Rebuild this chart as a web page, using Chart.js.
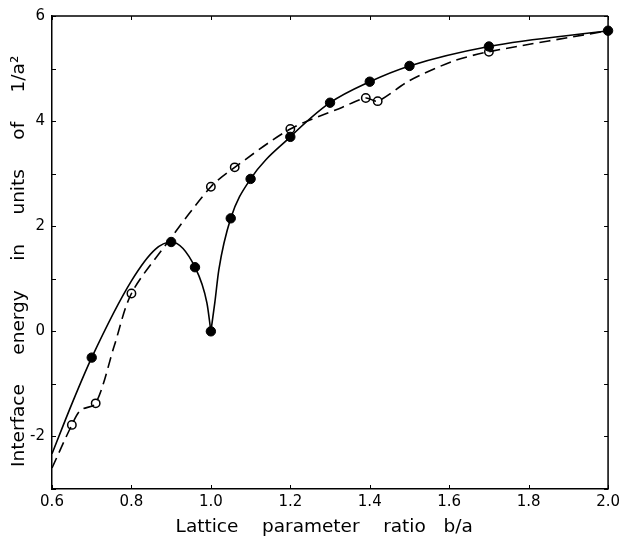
<!DOCTYPE html>
<html>
<head>
<meta charset="utf-8">
<script src="https://cdn.jsdelivr.net/npm/chart.js@4.4.0/dist/chart.umd.min.js"></script>
<style>
html,body{margin:0;padding:0;background:#fff;}
#wrap{width:624px;height:538px;}
</style>
</head>
<body>
<div id="wrap"><canvas id="c" width="624" height="538"></canvas></div>
<script>
// Tick values
const xTickValues = [0.6, 0.8, 1.0, 1.2, 1.4, 1.6, 1.8, 2.0];
const yTickValues = [-3, -2, -1, 0, 1, 2, 3, 4, 5, 6];
const yLabelValues = [-2, 0, 2, 4, 6];

// Solid curve (left branch, up to the cusp at b/a = 1)
const solidLeftX = [0.6, 0.65, 0.7, 0.8, 0.86, 0.9, 0.96, 0.99, 1.0];
const solidLeftY = [-2.33, -1.38, -0.5, 0.96, 1.56, 1.7, 1.22, 0.54, 0.0];
// Solid curve (right branch, from the cusp)
const solidRightX = [1.0, 1.01, 1.02, 1.05, 1.1, 1.2, 1.3, 1.4, 1.5, 1.7, 2.0];
const solidRightY = [0.0, 0.55, 1.17, 2.15, 2.9, 3.7, 4.35, 4.75, 5.05, 5.42, 5.72];
// Dashed curve
const dashedX = [0.6, 0.65, 0.672, 0.71, 0.757, 0.8, 0.89, 1.0, 1.06, 1.2, 1.33, 1.39, 1.42, 1.5, 1.61, 1.7, 2.0];
const dashedY = [-2.6, -1.78, -1.5, -1.37, -0.27, 0.72, 1.68, 2.75, 3.12, 3.85, 4.26, 4.44, 4.38, 4.77, 5.14, 5.32, 5.72];

// Filled circles
const filledX = [0.7, 0.9, 0.96, 1.0, 1.05, 1.1, 1.2, 1.3, 1.4, 1.5, 1.7, 2.0];
const filledY = [-0.5, 1.7, 1.22, 0.0, 2.15, 2.9, 3.7, 4.35, 4.75, 5.05, 5.42, 5.72];
// Open circles
const openX = [0.65, 0.71, 0.8, 1.0, 1.06, 1.2, 1.39, 1.42, 1.7];
const openY = [-1.78, -1.37, 0.72, 2.75, 3.12, 3.85, 4.44, 4.38, 5.32];

const pts = (xs, ys) => xs.map((x, i) => ({x: x, y: ys[i]}));

const FONT = "'DejaVu Sans', sans-serif";

const framePlugin = {
  id: 'frame',
  afterDraw(chart) {
    const {ctx, chartArea: a, scales: {x, y}} = chart;
    ctx.save();
    ctx.strokeStyle = '#000';
    ctx.lineWidth = 1.5;
    ctx.beginPath();
    ctx.moveTo(a.left, a.top); ctx.lineTo(a.right, a.top);
    ctx.moveTo(a.right, a.top); ctx.lineTo(a.right, a.bottom);
    ctx.stroke();
    ctx.lineWidth = 1;
    ctx.beginPath();
    xTickValues.forEach(v => {
      const px = Math.round(x.getPixelForValue(v)) + 0.5;
      ctx.moveTo(px, a.bottom); ctx.lineTo(px, a.bottom - 4);
      ctx.moveTo(px, a.top); ctx.lineTo(px, a.top + 4);
    });
    yTickValues.forEach(v => {
      const py = Math.round(y.getPixelForValue(v)) + 0.5;
      ctx.moveTo(a.left, py); ctx.lineTo(a.left + 4, py);
      ctx.moveTo(a.right, py); ctx.lineTo(a.right - 4, py);
    });
    ctx.stroke();
    ctx.restore();
  }
};

const lineBase = {
  type: 'line',
  showLine: true,
  borderColor: '#000',
  borderWidth: 1.6,
  pointRadius: 0,
  pointHoverRadius: 0,
  fill: false,
  clip: 2
};

new Chart(document.getElementById('c'), {
  type: 'scatter',
  data: {
    datasets: [
      Object.assign({}, lineBase, {label: 'solid-left', data: pts(solidLeftX, solidLeftY), cubicInterpolationMode: 'monotone'}),
      Object.assign({}, lineBase, {label: 'solid-right', data: pts(solidRightX, solidRightY), cubicInterpolationMode: 'monotone'}),
      Object.assign({}, lineBase, {label: 'dashed', data: pts(dashedX, dashedY), borderDash: [11, 6], tension: 0.3}),
      {
        label: 'filled', type: 'scatter', data: pts(filledX, filledY),
        pointRadius: 4.7, pointBackgroundColor: '#000', pointBorderColor: '#000', pointBorderWidth: 1,
        showLine: false, clip: false
      },
      {
        label: 'open', type: 'scatter', data: pts(openX, openY),
        pointRadius: 4.2, pointBackgroundColor: '#fff', pointBorderColor: '#000', pointBorderWidth: 1.5,
        showLine: false, clip: false
      }
    ]
  },
  options: {
    responsive: false,
    animation: false,
    devicePixelRatio: 1,
    layout: {padding: {top: 10, right: 12, left: 0, bottom: 0}},
    plugins: {legend: {display: false}, tooltip: {enabled: false}},
    events: [],
    scales: {
      x: {
        type: 'linear', position: 'bottom', min: 0.6, max: 2.0,
        afterBuildTicks: s => { s.ticks = xTickValues.map(v => ({value: v})); },
        afterFit: s => { s.height = 49; },
        ticks: {
          callback: v => Number(v).toFixed(1),
          color: '#000', font: {family: FONT, size: 15}, padding: 4,
          maxRotation: 0, autoSkip: false
        },
        grid: {display: false, drawTicks: false},
        border: {display: true, color: '#000', width: 1.5},
        title: {
          display: true, text: 'Lattice    parameter    ratio   b/a  ',
          color: '#000', font: {family: FONT, size: 18.5}, padding: {top: 0, bottom: 0}
        }
      },
      y: {
        type: 'linear', position: 'left', min: -3, max: 6,
        afterBuildTicks: s => { s.ticks = yTickValues.map(v => ({value: v})); },
        afterFit: s => { s.width = 52; },
        ticks: {
          callback: v => yLabelValues.includes(v) ? String(v) : '',
          color: '#000', font: {family: FONT, size: 15}, padding: 7, autoSkip: false
        },
        grid: {display: false, drawTicks: false},
        border: {display: true, color: '#000', width: 1.5},
        title: {
          display: true, text: 'Interface     energy     in     units     of     1/a²   ',
          color: '#000', font: {family: FONT, size: 18.5}, padding: {top: 8, bottom: 0}
        }
      }
    }
  },
  plugins: [framePlugin]
});
</script>
</body>
</html>
